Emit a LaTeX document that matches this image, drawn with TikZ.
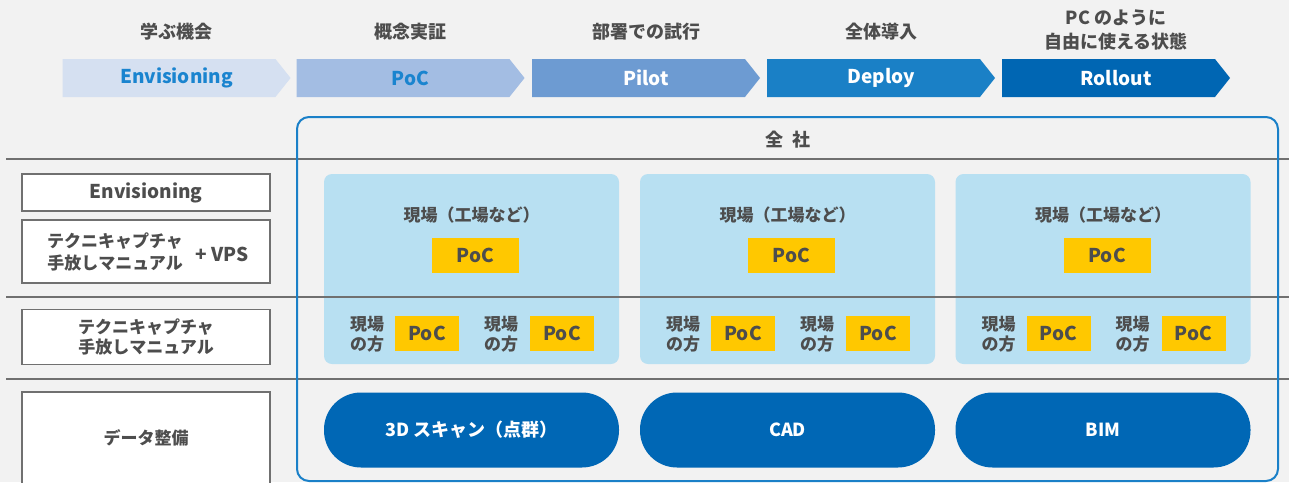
\documentclass[tikz,border=0pt]{standalone}
\usepackage{fontspec}
\setmainfont{Noto Sans CJK JP}
\usetikzlibrary{shapes.symbols}
\definecolor{bggray}{HTML}{F2F2F2}
\definecolor{txtgray}{HTML}{4D4D4D}
\definecolor{linegray}{HTML}{707070}
\definecolor{phaseone}{HTML}{D5E0F1}
\definecolor{phasetwo}{HTML}{A3BDE3}
\definecolor{phasethree}{HTML}{6D9BD2}
\definecolor{phasefour}{HTML}{1A80C6}
\definecolor{phasefive}{HTML}{0066B3}
\definecolor{phasetxt}{HTML}{1A84CF}
\definecolor{allblue}{HTML}{1A80C8}
\definecolor{fieldblue}{HTML}{B8E0F2}
\definecolor{pocyellow}{HTML}{FFC800}
\definecolor{barblue}{HTML}{0067B5}

\begin{document}
\begin{tikzpicture}[x=1pt,y=-1pt,
  every node/.style={text=txtgray,font=\bfseries\fontsize{17}{21}\selectfont},
  phase/.style={signal,signal to=east,signal pointer angle=103,
    minimum width=228pt,minimum height=38pt,inner sep=0pt,
    execute at begin node=\hspace*{15pt},
    font=\bfseries\fontsize{19}{22}\selectfont},
  field/.style={rectangle,fill=fieldblue,rounded corners=8pt,
    minimum width=295pt,minimum height=190pt},
  pocbox/.style={fill=pocyellow,minimum height=35pt,inner sep=0pt,
    font=\bfseries\fontsize{19}{22}\selectfont},
  databar/.style={fill=barblue,rounded corners=37pt,minimum width=295pt,
    minimum height=75pt,text=white,font=\bfseries\fontsize{18}{22}\selectfont},
  leftbox/.style={draw=linegray,line width=1.5pt,fill=white,
    minimum width=248pt,inner sep=0pt},
  rowline/.style={draw=linegray,line width=1.5pt}]

\fill[bggray] (0,0) rectangle (1289,482);
\useasboundingbox (0,0) rectangle (1289,482);

% phases
\node[phase,fill=phaseone,text=phasetxt] (env) at (169,78) {Envisioning};
\node[phase,fill=phasetwo,text=phasetxt] (poc) at (403,78) {PoC};
\node[phase,fill=phasethree,text=white] (pilot) at (638.5,78) {Pilot};
\node[phase,fill=phasefour,text=white] (deploy) at (873.5,78) {Deploy};
\node[phase,fill=phasefive,text=white] (rollout) at (1108.5,78) {Rollout};

\node[font=\bfseries\fontsize{18}{22}\selectfont] (envlbl) at (176.5,32) {学ぶ機会};
\node[font=\bfseries\fontsize{18}{22}\selectfont] (poclbl) at (410,32) {概念実証};
\node[font=\bfseries\fontsize{18}{22}\selectfont] (pilotlbl) at (646,32) {部署での試行};
\node[font=\bfseries\fontsize{18}{22}\selectfont] (deploylbl) at (881,32) {全体導入};
\node[font=\bfseries\fontsize{18}{24}\selectfont,align=center] (rolloutlbl) at (1116,30) {PC のように\\自由に使える状態};

% sites
\foreach \c/\n in {471.5/1,787.5/2,1103/3}{
  \node[field] (field\n) at (\c,269) {};
  \node (site\n) at (\c,215) {現場（工場など）};
  \node[pocbox,minimum width=87pt] (poc\n) at (\c+4,255.5) {PoC};
  \node[align=center,font=\bfseries\fontsize{17}{20}\selectfont] (loca\n) at (\c-104.5,334) {現場\\の方};
  \node[pocbox,minimum width=64pt] (poca\n) at (\c-44.5,333.5) {PoC};
  \node[align=center,font=\bfseries\fontsize{17}{20}\selectfont] (locb\n) at (\c+29.5,334) {現場\\の方};
  \node[pocbox,minimum width=64pt] (pocb\n) at (\c+90.5,333.5) {PoC};
}

\draw[rowline] (6,159) -- (1289,159);
\draw[rowline] (6,297) -- (1289,297);
\draw[rowline] (6,379) -- (1289,379);

\draw[allblue,line width=2pt,rounded corners=12pt] (297,117) rectangle (1278,481);
\node[font=\bfseries\fontsize{18}{22}\selectfont] (all) at (787.5,140) {全\hspace{9pt}社};

% left column
\node[leftbox,minimum height=37pt,font=\bfseries\fontsize{19}{22}\selectfont] (leftenv) at (146,192.5) {Envisioning};
\node[leftbox,minimum height=63pt] (leftvps) at (146,251.5) {};
\node[align=center,font=\bfseries\fontsize{17}{22}\selectfont] (vpsdoc) at (115,252) {テクニキャプチャ\\手放しマニュアル};
\node[font=\bfseries\fontsize{19}{22}\selectfont] (vps) at (222,254) {+ VPS};
\node[leftbox,minimum height=55pt,align=center,font=\bfseries\fontsize{17}{20}\selectfont] (leftdoc) at (146,337) {テクニキャプチャ\\手放しマニュアル};
\node[leftbox,minimum height=110pt] (leftdata) at (146,447) {};
\node (datalbl) at (146,438) {データ整備};

% data
\node[databar] (scan) at (471.5,430) {3D スキャン（点群）};
\node[databar] (cad) at (787.5,430) {CAD};
\node[databar] (bim) at (1103,430) {BIM};
\end{tikzpicture}
\end{document}
